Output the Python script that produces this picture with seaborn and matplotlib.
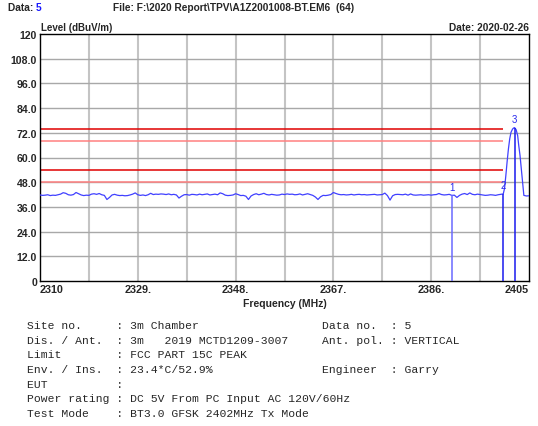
import numpy as np
import pandas as pd
import matplotlib
matplotlib.use("Agg")
import matplotlib.pyplot as plt
import seaborn as sns

# ---------------- data ----------------
noise_start = 2310.0
noise_step = 0.5
noise_level = [
    41.8, 41.6, 41.7, 41.9, 41.5, 41.7, 41.6, 41.9, 42.2, 42.9,
    42.6, 41.9, 41.7, 42.0, 43.0, 42.4, 41.8, 41.5, 41.7, 41.6,
    42.2, 42.4, 42.1, 42.5, 41.9, 41.6, 39.6, 40.6, 41.8, 42.1,
    41.7, 41.5, 41.6, 41.4, 41.5, 41.8, 42.2, 42.8, 41.9, 41.6,
    41.8, 41.5, 41.9, 42.6, 42.0, 42.2, 42.1, 42.3, 42.2, 42.0,
    42.3, 41.9, 42.1, 41.8, 40.3, 41.2, 41.9, 42.0, 41.7, 42.1,
    42.0, 41.8, 42.2, 41.9, 42.1, 42.3, 41.8, 42.0, 42.2, 41.9,
    42.8, 42.4, 41.7, 41.5, 41.6, 41.8, 42.4, 42.0, 41.5, 41.6,
    41.2, 39.6, 41.3, 42.0, 42.4, 41.9, 42.2, 42.6, 42.0, 41.8,
    42.1, 41.9, 41.7, 41.8, 42.2, 42.0, 42.3, 42.1, 42.2, 41.9,
    42.0, 42.3, 41.8, 42.1, 42.4, 42.0, 41.6, 40.8, 39.6, 40.9,
    41.6, 41.5, 41.7, 42.0, 43.0, 42.5, 42.1, 41.9, 42.0, 41.8,
    41.9, 42.1, 41.8, 42.0, 42.1, 41.9, 42.0, 41.8, 41.9, 42.0,
    42.1, 41.8, 41.9, 42.0, 42.7, 41.5, 39.3, 41.4, 42.0, 42.1,
    42.0, 41.9, 42.2, 41.7, 42.3, 41.8, 41.7, 41.8, 41.9, 41.7,
    41.8, 41.9, 41.7, 41.9, 42.0, 42.5, 42.0, 41.8, 41.9, 42.1,
    41.6, 41.7, 40.6, 41.6, 42.2, 42.5, 42.0, 42.8, 42.1, 41.9,
    42.2, 42.0, 41.8, 41.6, 41.7, 41.9, 41.8, 41.6, 41.9, 42.1,
    42.3,
]
peak_freq = [2400.25, 2400.5, 2400.75, 2401.0, 2401.25, 2401.5, 2401.8,
             2402.0, 2402.2, 2402.5, 2402.8, 2403.0, 2403.26, 2403.5,
             2403.7, 2404.0, 2404.5, 2405.0]
peak_level = [45.0, 51.2, 58.0, 64.1, 69.0, 72.2, 73.8,
              74.3, 74.5, 73.5, 70.6, 66.0, 60.9, 54.5,
              49.6, 41.6, 41.3, 41.4]

limit_levels = [74.0, 68.0, 54.0, 48.0]
limit_colors = ["#e00000", "#ff8080", "#e00000", "#ff8080"]
limit_start, limit_stop = 2310.0, 2400.0

marker_freq = [2390.0, 2400.0, 2402.2]
marker_level = [41.6, 42.3, 74.5]
marker_names = ["1", "2", "3"]
marker_colors = ["#6a6aff", "#1a1aee", "#1a1aee"]

x_ticks = [2310, 2329, 2348, 2367, 2386, 2405]
x_tick_labels = ["2310", "2329.", "2348.", "2367.", "2386.", "2405"]
x_grid = [2310 + 9.5 * i for i in range(11)]
y_ticks = [0, 12, 24, 36, 48, 60, 72, 84, 96, 108, 120]
y_tick_labels = ["0", "12.0", "24.0", "36.0", "48.0", "60.0", "72.0",
                 "84.0", "96.0", "108.0", "120"]

info_left = [
    "Site no.     : 3m Chamber",
    "Dis. / Ant.  : 3m   2019 MCTD1209-3007",
    "Limit        : FCC PART 15C PEAK",
    "Env. / Ins.  : 23.4*C/52.9%",
    "EUT          :",
    "Power rating : DC 5V From PC Input AC 120V/60Hz",
    "Test Mode    : BT3.0 GFSK 2402MHz Tx Mode",
]
info_right = ["Data no.  : 5", "Ant. pol. : VERTICAL", None,
              "Engineer  : Garry", None, None, None]

# ---------------- build frame ----------------
noise_freq = [noise_start + noise_step * i for i in range(len(noise_level))]
df = pd.DataFrame({"freq": noise_freq + peak_freq,
                   "level": noise_level + peak_level})

sns.set_style("white")
plt.rcParams["font.family"] = ["Liberation Sans", "DejaVu Sans"]

W, H = 538, 427
fig = plt.figure(figsize=(W / 100, H / 100), dpi=100)
L, R, T, B = 40, 529, 35, 282
ax = fig.add_axes([L / W, 1 - B / H, (R - L) / W, (B - T) / H])

# grid
for xg in x_grid[1:-1]:
    ax.axvline(xg, color="#c4c4c4", lw=1.5, zorder=0)
for yg in y_ticks[1:-1]:
    ax.axhline(yg, color="#a8a8a8", lw=1.0, zorder=0)

# limit lines
for lv, col in zip(limit_levels, limit_colors):
    ax.hlines(lv, limit_start, limit_stop, color=col, lw=1.1, zorder=2)

# trace
sns.lineplot(data=df, x="freq", y="level", ax=ax, color="#4040ff",
             lw=0.9, zorder=3, sort=False, estimator=None)

# markers
for f, lv, nm, col in zip(marker_freq, marker_level, marker_names, marker_colors):
    ax.vlines(f, 0, lv, color=col, lw=1.1, zorder=4)
    ax.annotate(nm, (f, lv), xytext=(0, 2.5), textcoords="offset points",
                ha="center", va="bottom", color="#2a2aee", fontsize=7)

ax.set_xlim(2310, 2405)
ax.set_ylim(0, 120)
ax.set_xticks(x_ticks)
ax.set_xticklabels(x_tick_labels, fontsize=7.8, fontweight="bold")
ax.set_yticks(y_ticks)
ax.set_yticklabels(y_tick_labels, fontsize=7.6, fontweight="bold")
xt = ax.get_xticklabels()
xt[0].set_ha("left")
xt[-1].set_ha("right")
ax.tick_params(axis="both", length=0, pad=2)
ax.set_xlabel("Frequency (MHz)", fontsize=7.5, fontweight="bold", labelpad=3)
ax.set_ylabel("")
for s in ax.spines.values():
    s.set_color("black")
    s.set_linewidth(1.0)
    s.set_visible(True)

# header texts
fig.text(7.5 / W, 1 - 8 / H, "Data: ", fontsize=7.3, fontweight="bold",
         va="center", ha="left")
fig.text(35.5 / W, 1 - 8 / H, "5", fontsize=7.3, fontweight="bold",
         va="center", ha="left", color="#1a1aff")
fig.text(113 / W, 1 - 8 / H, "File: F:\\2020 Report\\TPV\\A1Z2001008-BT.EM6  (64)",
         fontsize=7.3, fontweight="bold", va="center", ha="left")
fig.text(41 / W, 1 - 28 / H, "Level (dBuV/m)", fontsize=7, fontweight="bold",
         va="center", ha="left")
fig.text(529 / W, 1 - 28 / H, "Date: 2020-02-26", fontsize=7.3, fontweight="bold",
         va="center", ha="right")

# info block
mono = ["Liberation Mono", "DejaVu Sans Mono"]
for i, (lt, rt) in enumerate(zip(info_left, info_right)):
    y = 1 - (326 + 14.7 * i) / H
    fig.text(27 / W, y, lt, family=mono, fontsize=8.2, va="center", ha="left")
    if rt:
        fig.text(322 / W, y, rt, family=mono, fontsize=8.2, va="center", ha="left")

fig.savefig("out.png", dpi=100)
